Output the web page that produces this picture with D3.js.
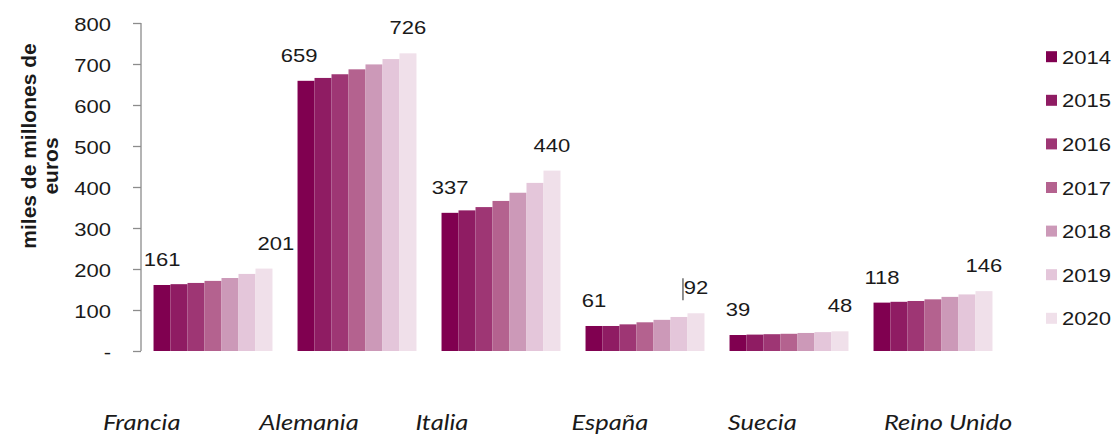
<!DOCTYPE html>
<html>
<head>
<meta charset="utf-8">
<script src="https://cdn.jsdelivr.net/npm/d3@7"></script>
<style>
  html, body { margin: 0; padding: 0; background: #fff; }
  svg { display: block; }
</style>
</head>
<body>
<svg id="chart" width="1118" height="436"></svg>
<script>
// Countries and years
const categories = ["Francia", "Alemania", "Italia", "España", "Suecia", "Reino Unido"];
const years = ["2014", "2015", "2016", "2017", "2018", "2019", "2020"];

// Values in thousands of millions of euros, one array per country (2014..2020)
const francia    = [161, 163, 166, 171, 178, 188, 201];
const alemania   = [659, 666, 675, 687, 699, 712, 726];
const italia     = [337, 343, 351, 366, 386, 410, 440];
const espana     = [61, 61, 65, 70, 76, 83, 92];
const suecia     = [39, 40, 41, 42, 44, 46, 48];
const reinoUnido = [118, 120, 122, 126, 132, 138, 146];

const yTicks = [0, 100, 200, 300, 400, 500, 600, 700, 800];
const yTickLabels = ["-", "100", "200", "300", "400", "500", "600", "700", "800"];

const colors = ["#800050", "#8f1c63", "#9e3674", "#b4628f", "#cc99b8", "#e4c6da", "#f0e0ea"];

const seriesByCountry = [francia, alemania, italia, espana, suecia, reinoUnido];
const rows = categories.map((c, i) => ({ country: c, values: seriesByCountry[i] }));

const SX = 1.16;                 // horizontal stretch of the text glyphs
const numFont = "'Liberation Sans', Arial, sans-serif";

const svg = d3.select("#chart");

const x0 = d3.scaleBand().domain(categories).range([141, 1005])
  .paddingInner(0.174).paddingOuter(0.087);
const x1 = d3.scaleBand().domain(years).range([0, x0.bandwidth()]).padding(0);
const y = d3.scaleLinear().domain([0, 800]).range([351, 23]);
const color = d3.scaleOrdinal().domain(years).range(colors);

// Bars
const groups = svg.append("g").selectAll("g").data(rows).join("g")
  .attr("transform", d => `translate(${x0(d.country)},0)`);
groups.selectAll("rect")
  .data(d => d.values.map((v, i) => ({ year: years[i], value: v })))
  .join("rect")
  .attr("x", d => x1(d.year))
  .attr("y", d => y(d.value))
  .attr("width", x1.bandwidth())
  .attr("height", d => y(0) - y(d.value))
  .attr("fill", d => color(d.year));

// Y axis
const yAxis = d3.axisLeft(y).tickValues(yTicks)
  .tickFormat((d, i) => yTickLabels[i]).tickSize(8).tickSizeOuter(0);
const gy = svg.append("g").attr("transform", "translate(141,0)").call(yAxis);
gy.select(".domain").attr("stroke", "#8c8c8c").attr("stroke-width", 1.3);
gy.selectAll(".tick line").attr("stroke", "#8c8c8c").attr("stroke-width", 1.3);
gy.selectAll(".tick text")
  .attr("x", null).attr("dy", null)
  .attr("transform", `translate(-30,7) scale(${SX},1)`)
  .attr("font-family", numFont).attr("font-size", 19).attr("fill", "#1a1a1a")
  .attr("text-anchor", "end");
gy.select(".domain").attr("d", `M0,${y(800)}V${y(0)}`);

// Y axis title
const title = svg.append("g").attr("font-family", numFont)
  .attr("font-weight", "bold").attr("font-size", 21).attr("fill", "#1a1a1a")
  .attr("text-anchor", "middle");
title.append("text").attr("transform", "translate(36,146) rotate(-90)")
  .text("miles de millones de");
title.append("text").attr("transform", "translate(58,166) rotate(-90)")
  .text("euros");

// Value labels for the first and last year of each country
const nudge = { "Francia": [0, 12], "Alemania": [-7, 0] };
const labelData = [];
rows.forEach(r => {
  [0, years.length - 1].forEach((i, k) => {
    const n = nudge[r.country] ? nudge[r.country][k] : 0;
    labelData.push({
      cx: x0(r.country) + x1(years[i]) + x1.bandwidth() / 2 + n,
      value: r.values[i],
      country: r.country, last: k === 1
    });
  });
});
svg.append("g").selectAll("text").data(labelData).join("text")
  .attr("transform", d => `translate(${d.cx},${y(d.value) - 19}) scale(${SX},1)`)
  .attr("text-anchor", "middle")
  .attr("font-family", numFont).attr("font-size", 19).attr("fill", "#1a1a1a")
  .text(d => d.value);

// Text cursor left of the España closing label
const esLast = labelData.find(d => d.country === "España" && d.last);
svg.append("line")
  .attr("x1", esLast.cx - 13).attr("x2", esLast.cx - 13)
  .attr("y1", y(esLast.value) - 35).attr("y2", y(esLast.value) - 13)
  .attr("stroke", "#222").attr("stroke-width", 1);

// Country labels under the chart
const xl = d3.scalePoint().domain(categories).range([103, 884]);
svg.append("g").selectAll("text").data(categories).join("text")
  .attr("transform", d => `translate(${xl(d)},430) scale(${SX},1)`)
  .attr("font-family", "Lato, 'Open Sans', sans-serif")
  .attr("font-style", "italic").attr("font-size", 22).attr("fill", "#1a1a1a")
  .text(d => d);

// Legend
const legend = svg.append("g").selectAll("g").data(years).join("g")
  .attr("transform", (d, i) => `translate(1046,${56.7 + i * 43.6})`);
legend.append("rect").attr("x", 0).attr("y", -5.5).attr("width", 11).attr("height", 11)
  .attr("fill", d => color(d));
legend.append("text")
  .attr("transform", `translate(16,7) scale(${SX},1)`)
  .attr("font-family", numFont).attr("font-size", 19).attr("fill", "#1a1a1a")
  .text(d => d);
</script>
</body>
</html>
